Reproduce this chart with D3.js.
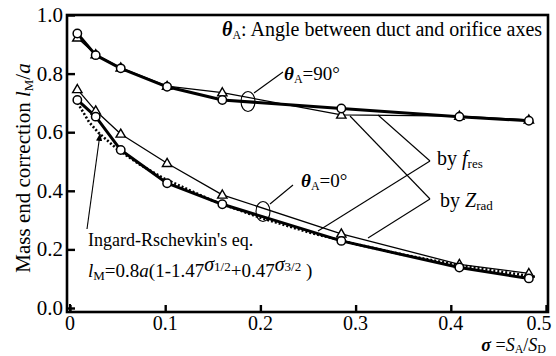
<!DOCTYPE html>
<html><head><meta charset="utf-8">
<script src="https://cdn.jsdelivr.net/npm/d3@7"></script>
<style>body{margin:0;background:#fff}svg{display:block}</style>
</head><body><svg id="c" width="556" height="356" font-family="'Liberation Serif', 'DejaVu Serif', serif"></svg>
<script>
// ---- data ----
const sigma = [0.0077, 0.027, 0.0533, 0.102, 0.160, 0.285, 0.409, 0.482];
const a90_fres = [0.937, 0.863, 0.818, 0.755, 0.710, 0.681, 0.653, 0.639];   // circles
const a90_zrad = [0.922, 0.865, 0.820, 0.757, 0.735, 0.659, 0.655, 0.642];   // triangles
const a0_zrad  = [0.746, 0.673, 0.594, 0.494, 0.386, 0.253, 0.149, 0.118];   // triangles
const a0_fres  = [0.710, 0.653, 0.539, 0.426, 0.354, 0.229, 0.138, 0.101];   // circles
const ingardSigma = [0.008, 0.02, 0.03, 0.05, 0.075, 0.1, 0.15, 0.2, 0.25, 0.3, 0.35, 0.4, 0.45, 0.49];
const ingardVal   = [0.700, 0.635, 0.598, 0.541, 0.486, 0.440, 0.366, 0.308, 0.259, 0.218, 0.182, 0.151, 0.125, 0.106];
const xTicks = [0, 0.1, 0.2, 0.3, 0.4, 0.5];
const xTickLabels = ["0", "0.1", "0.2", "0.3", "0.4", "0.5"];
const yTicks = [0, 0.2, 0.4, 0.6, 0.8, 1.0];
const yTickLabels = ["0.0", "0.2", "0.4", "0.6", "0.8", "1.0"];

const svg = d3.select("#c");
const x = d3.scaleLinear().domain([0, 0.5]).range([70, 546]);
const y = d3.scaleLinear().domain([0, 1]).range([308, 15]);
const frame = {l: 67, r: 548, t: 15, b: 312};

svg.append("rect").attr("x", frame.l).attr("y", frame.t).attr("width", frame.r - frame.l).attr("height", frame.b - frame.t)
  .attr("fill", "none").attr("stroke", "#000").attr("stroke-width", 2.6);

const yAxis = d3.axisRight(y).tickValues(yTicks).tickSize(8).tickFormat("");
svg.append("g").attr("transform", `translate(${frame.l},0)`).call(yAxis)
  .call(g => { g.attr("font-family", null); g.select(".domain").remove(); g.selectAll("line").attr("stroke-width", 2.4); });
svg.selectAll(".ylab").data(yTicks).join("text").attr("class", "ylab")
  .attr("x", 63).attr("y", d => y(d) + 7).attr("text-anchor", "end").attr("font-size", 21)
  .text((d, i) => yTickLabels[i]);
const xAxis = d3.axisTop(x).tickValues(xTicks).tickSize(7).tickFormat("");
svg.append("g").attr("transform", `translate(0,${frame.b})`).call(xAxis)
  .call(g => { g.attr("font-family", null); g.select(".domain").remove(); g.selectAll("line").attr("stroke-width", 2.4); });
svg.selectAll(".xlab").data(xTicks).join("text").attr("class", "xlab")
  .attr("x", (d, i) => i === xTicks.length - 1 ? x(d) - 7 : x(d)).attr("y", 330).attr("text-anchor", "middle").attr("font-size", 20)
  .text((d, i) => xTickLabels[i]);

const line = d3.line().x(d => x(d[0])).y(d => y(d[1]));
const zip = (a, b) => a.map((v, i) => [v, b[i]]);
svg.append("path").attr("d", line(zip(ingardSigma, ingardVal))).attr("fill", "none")
  .attr("stroke", "#000").attr("stroke-width", 2.6).attr("stroke-dasharray", "2,2");
[[a90_zrad, 1.3], [a0_zrad, 1.3], [a90_fres, 3], [a0_fres, 3]].forEach(([v, w]) => {
  svg.append("path").attr("d", line(zip(sigma, v))).attr("fill", "none")
    .attr("stroke", "#000").attr("stroke-width", w).attr("stroke-linejoin", "round");
});

const tri = d3.symbol().type(d3.symbolTriangle).size(38);
[a90_zrad, a0_zrad].forEach(v => {
  svg.append("g").selectAll("path").data(zip(sigma, v)).join("path")
    .attr("d", tri).attr("transform", d => `translate(${x(d[0])},${y(d[1]) + 0.5})`)
    .attr("fill", "#fff").attr("stroke", "#000").attr("stroke-width", 1.4);
});
[a90_fres, a0_fres].forEach(v => {
  svg.append("g").selectAll("circle").data(zip(sigma, v)).join("circle")
    .attr("cx", d => x(d[0])).attr("cy", d => y(d[1])).attr("r", 4.2)
    .attr("fill", "#fff").attr("stroke", "#000").attr("stroke-width", 1.5);
});
svg.append("line").attr("x1", x(0)).attr("x2", x(0)).attr("y1", y(0) - 4).attr("y2", frame.b)
  .attr("stroke", "#000").attr("stroke-width", 2);

function theta(g, xx, yy, rest, fs) {
  const t = g.append("text").attr("x", xx).attr("y", yy).attr("font-size", fs);
  t.append("tspan").attr("font-style", "italic").attr("font-weight", "bold").text("θ");
  t.append("tspan").attr("font-size", 12).attr("dy", 3).text("A");
  t.append("tspan").attr("dy", -3).text(rest);
  return t;
}
theta(svg, 222, 36, ": Angle between duct and orifice axes", 20);
theta(svg, 284, 80, "=90°", 19);
theta(svg, 301, 187, "=0°", 19);

const thin = (x1, y1, x2, y2) => svg.append("line").attr("x1", x1).attr("y1", y1).attr("x2", x2).attr("y2", y2)
  .attr("stroke", "#000").attr("stroke-width", 1.1);
svg.append("ellipse").attr("cx", 248).attr("cy", 101.5).attr("rx", 7).attr("ry", 10).attr("fill", "none").attr("stroke", "#000").attr("stroke-width", 1.1);
thin(254, 93, 283, 72);
svg.append("ellipse").attr("cx", 263).attr("cy", 211.5).attr("rx", 7).attr("ry", 10).attr("fill", "none").attr("stroke", "#000").attr("stroke-width", 1.1);
thin(270, 204, 293, 185);

thin(378, 115, 430, 161); thin(318, 231, 430, 161);
thin(350, 116, 430, 199); thin(368, 238, 430, 199);

let t = svg.append("text").attr("x", 437).attr("y", 165).attr("font-size", 20);
t.append("tspan").text("by ");
t.append("tspan").attr("font-style", "italic").text("f");
t.append("tspan").attr("font-size", 13).attr("dy", 3).text("res");
t = svg.append("text").attr("x", 440).attr("y", 207).attr("font-size", 20);
t.append("tspan").text("by ");
t.append("tspan").attr("font-style", "italic").text("Z");
t.append("tspan").attr("font-size", 13).attr("dy", 3).text("rad");

svg.append("text").attr("x", 88).attr("y", 246).attr("font-size", 18).text("Ingard-Rschevkin's eq.");
t = svg.append("text").attr("x", 88).attr("y", 277).attr("font-size", 19);
t.append("tspan").attr("font-style", "italic").text("l");
t.append("tspan").attr("font-size", 13).attr("dy", 3).text("M");
t.append("tspan").attr("dy", -3).text("=0.8");
t.append("tspan").attr("font-style", "italic").text("a");
t.append("tspan").text("(1-1.47");
t.append("tspan").attr("font-size", 20).attr("dy", -6).attr("font-style", "italic").text("σ");
t.append("tspan").attr("font-size", 13).text("1/2");
t.append("tspan").attr("dy", 6).text("+0.47");
t.append("tspan").attr("font-size", 20).attr("dy", -6).attr("font-style", "italic").text("σ");
t.append("tspan").attr("font-size", 13).text("3/2");
t.append("tspan").attr("dy", 6).text(" )");

svg.append("defs").append("marker").attr("id", "ah").attr("viewBox", "0 0 10 10").attr("refX", 9).attr("refY", 5)
  .attr("markerWidth", 7).attr("markerHeight", 7).attr("orient", "auto")
  .append("path").attr("d", "M0,1L10,5L0,9Z").attr("fill", "#000");
svg.append("line").attr("x1", 87).attr("y1", 229).attr("x2", 100).attr("y2", 134)
  .attr("stroke", "#000").attr("stroke-width", 1.1).attr("marker-end", "url(#ah)");

t = svg.append("text").attr("x", 546).attr("y", 351).attr("text-anchor", "end").attr("font-size", 18);
t.append("tspan").attr("font-style", "italic").attr("font-weight", "bold").text("σ");
t.append("tspan").text(" =");
t.append("tspan").attr("font-style", "italic").text("S");
t.append("tspan").attr("font-size", 12).attr("dy", 1.5).text("A");
t.append("tspan").attr("dy", -1.5).text("/");
t.append("tspan").attr("font-style", "italic").text("S");
t.append("tspan").attr("font-size", 12).attr("dy", 1.5).text("D");

t = svg.append("text").attr("transform", "translate(30,168) rotate(-90)").attr("text-anchor", "middle").attr("font-size", 21);
t.append("tspan").text("Mass end correction  ");
t.append("tspan").attr("font-style", "italic").text("l");
t.append("tspan").attr("font-size", 13).attr("dy", 3).text("M");
t.append("tspan").attr("dy", -3).text("/");
t.append("tspan").attr("font-style", "italic").text("a");
</script></body></html>
